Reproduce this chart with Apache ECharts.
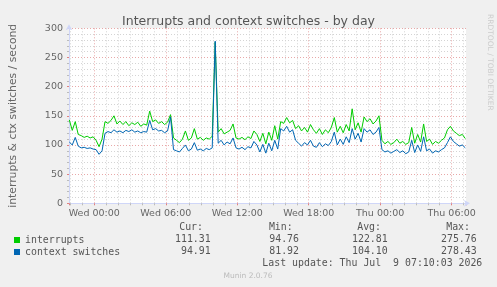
<!DOCTYPE html>
<html>
<head>
<meta charset="utf-8">
<script src="https://cdn.jsdelivr.net/npm/echarts@6/dist/echarts.min.js"></script>
<style>
  html, body { margin: 0; padding: 0; background: #f0f0f0; }
  #chart { width: 497px; height: 287px; }
</style>
</head>
<body>
<div id="chart"></div>
<script>
// samples every 15 min, hours relative to Wed 00:00
const startHour = -2.1;
const stepHours = 0.25;

const interrupts = [
  143, 125, 140, 118, 116, 113, 115, 112, 114, 108, 97, 110, 140, 137, 142, 150, 136, 141, 135, 140,
  133, 138, 135, 139, 132, 136, 134, 158, 140, 143, 137, 140, 135, 139, 152, 112, 108, 104, 110, 124,
  108, 112, 128, 110, 113, 108, 112, 110, 115, 276, 122, 128, 119, 122, 125, 136, 112, 110, 113, 109,
  114, 111, 124, 118, 106, 120, 102, 122, 108, 133, 110, 140, 137, 147, 138, 142, 128, 133, 124, 130,
  122, 135, 126, 120, 128, 118, 126, 121, 130, 147, 122, 132, 121, 135, 124, 162, 126, 138, 122, 148,
  140, 145, 136, 141, 150, 108, 102, 106, 101, 104, 110, 103, 106, 101, 104, 130, 103, 118, 105, 136,
  106, 110, 101, 106, 103, 108, 112, 126, 132, 124, 120, 116, 118, 111
];

const contextSwitches = [
  105, 100, 113, 98, 95, 96, 94, 95, 93, 92, 84, 90, 120, 123, 121, 126, 122, 124, 121, 125,
  123, 126, 122, 124, 121, 123, 122, 142, 126, 128, 124, 125, 121, 124, 148, 92, 90, 88, 94, 100,
  90, 93, 104, 91, 93, 90, 94, 92, 95, 278, 103, 108, 100, 105, 102, 112, 95, 93, 96, 92,
  97, 95, 106, 100, 88, 101, 86, 103, 90, 108, 93, 128, 124, 132, 122, 126, 108, 103, 98, 104,
  100, 108, 98, 96, 104, 97, 102, 99, 106, 122, 100, 110, 101, 114, 104, 128, 110, 120, 105, 128,
  122, 126, 118, 122, 130, 92, 88, 90, 86, 89, 92, 87, 90, 85, 88, 108, 87, 100, 89, 114,
  90, 93, 86, 90, 88, 92, 95, 104, 114, 106, 102, 98, 100, 95
];

const statHeaders = ['Cur:', 'Min:', 'Avg:', 'Max:'];
const interruptsStats = ['111.31', '94.76', '122.81', '275.76'];
const contextStats = ['94.91', '81.92', '104.10', '278.43'];
const lastUpdate = 'Last update: Thu Jul  9 07:10:03 2026';

const chart = echarts.init(document.getElementById('chart'));

const pairs = vals => vals.map((v, i) => [startHour + i * stepHours, v]);

const mono = 'DejaVu Sans Mono';
const sans = 'DejaVu Sans';
const headerX = [203, 292.7, 381, 470];
const valueX = [210.7, 299, 387.7, 476.7];

const statTexts = [];
statHeaders.forEach((h, i) => {
  statTexts.push({ type: 'text', x: headerX[i], y: 227.5, style: { text: h, align: 'right', verticalAlign: 'middle', font: '9.9px ' + mono, fill: '#555' } });
  statTexts.push({ type: 'text', x: valueX[i], y: 239.7, style: { text: interruptsStats[i], align: 'right', verticalAlign: 'middle', font: '9.9px ' + mono, fill: '#555' } });
  statTexts.push({ type: 'text', x: valueX[i], y: 251.7, style: { text: contextStats[i], align: 'right', verticalAlign: 'middle', font: '9.9px ' + mono, fill: '#555' } });
});

const dayLabel = v => {
  const day = v < 24 ? 'Wed' : 'Thu';
  const h = ((Math.round(v) % 24) + 24) % 24;
  return day + ' ' + String(h).padStart(2, '0') + ':00';
};

chart.setOption({
  backgroundColor: '#f0f0f0',
  animation: false,
  title: {
    text: 'Interrupts and context switches - by day',
    left: 'center',
    top: 10,
    textStyle: { fontFamily: sans, fontSize: 12.5, fontWeight: 'normal', color: '#555' }
  },
  legend: {
    orient: 'vertical',
    left: 14,
    top: 234,
    padding: 0,
    itemGap: 0,
    itemWidth: 6,
    itemHeight: 6,
    icon: 'rect',
    selectedMode: false,
    textStyle: { fontFamily: mono, fontSize: 9.9, color: '#555', lineHeight: 12 },
    data: ['interrupts', 'context switches']
  },
  grid: {
    left: 66, top: 28.3, width: 400, height: 175,
    show: true, backgroundColor: '#fff', borderWidth: 0
  },
  xAxis: {
    type: 'value',
    min: -2.125,
    max: 31.208,
    splitNumber: 5,
    minInterval: 6,
    maxInterval: 6,
    axisLine: { onZero: false, lineStyle: { color: '#cfd6f8' }, symbol: ['none', 'arrow'], symbolSize: [5, 6], symbolOffset: [0, 4] },
    axisTick: { length: 2, lineStyle: { color: '#e08080' } },
    minorTick: { show: true, splitNumber: 6, length: 2, lineStyle: { color: '#bbb' } },
    axisLabel: {
      showMinLabel: false, showMaxLabel: false,
      fontFamily: sans, fontSize: 9.5, color: '#666', margin: 5,
      formatter: v => (Math.abs(v % 6) < 1e-6 ? dayLabel(v) : '')
    },
    splitLine: { show: true, showMinLine: false, showMaxLine: false, lineStyle: { color: '#e8a8a8', type: [1, 2] } },
    minorSplitLine: { show: true, lineStyle: { color: '#d4d4d4', type: [1, 2] } }
  },
  yAxis: {
    type: 'value',
    min: 0,
    max: 300,
    interval: 50,
    name: 'interrupts & ctx switches / second',
    nameLocation: 'middle',
    nameGap: 50,
    nameTextStyle: { fontFamily: sans, fontSize: 10.8, color: '#666' },
    axisLine: { show: true, onZero: false, lineStyle: { color: '#cfd6f8' }, symbol: ['none', 'arrow'], symbolSize: [5, 6], symbolOffset: [0, 4] },
    axisTick: { show: true, length: 2, lineStyle: { color: '#e08080' } },
    minorTick: { show: true, splitNumber: 5, length: 2, lineStyle: { color: '#bbb' } },
    axisLabel: { fontFamily: sans, fontSize: 9.5, color: '#666', margin: 6 },
    splitLine: { show: true, showMinLine: false, lineStyle: { color: '#e8a8a8', type: [1, 2] } },
    minorSplitLine: { show: true, lineStyle: { color: '#d4d4d4', type: [1, 2] } }
  },
  series: [
    {
      name: 'interrupts', type: 'line', data: pairs(interrupts),
      showSymbol: false, color: '#00cc00', lineStyle: { width: 1 }
    },
    {
      name: 'context switches', type: 'line', data: pairs(contextSwitches),
      showSymbol: false, color: '#0066b3', lineStyle: { width: 1 }
    }
  ],
  graphic: statTexts.concat([
    { type: 'text', x: 482.3, y: 263.3, style: { text: lastUpdate, align: 'right', verticalAlign: 'middle', font: '9.9px ' + mono, fill: '#555' } },
    { type: 'text', x: 248, y: 276.3, style: { text: 'Munin 2.0.76', align: 'center', verticalAlign: 'middle', font: '7.5px ' + sans, fill: '#bbb' } },
    { type: 'text', x: 490, y: 14, rotation: -Math.PI / 2, style: { text: 'RRDTOOL / TOBI OETIKER', align: 'left', verticalAlign: 'middle', font: '7.5px ' + sans, fill: '#ccc' } }
  ])
});
</script>
</body>
</html>
